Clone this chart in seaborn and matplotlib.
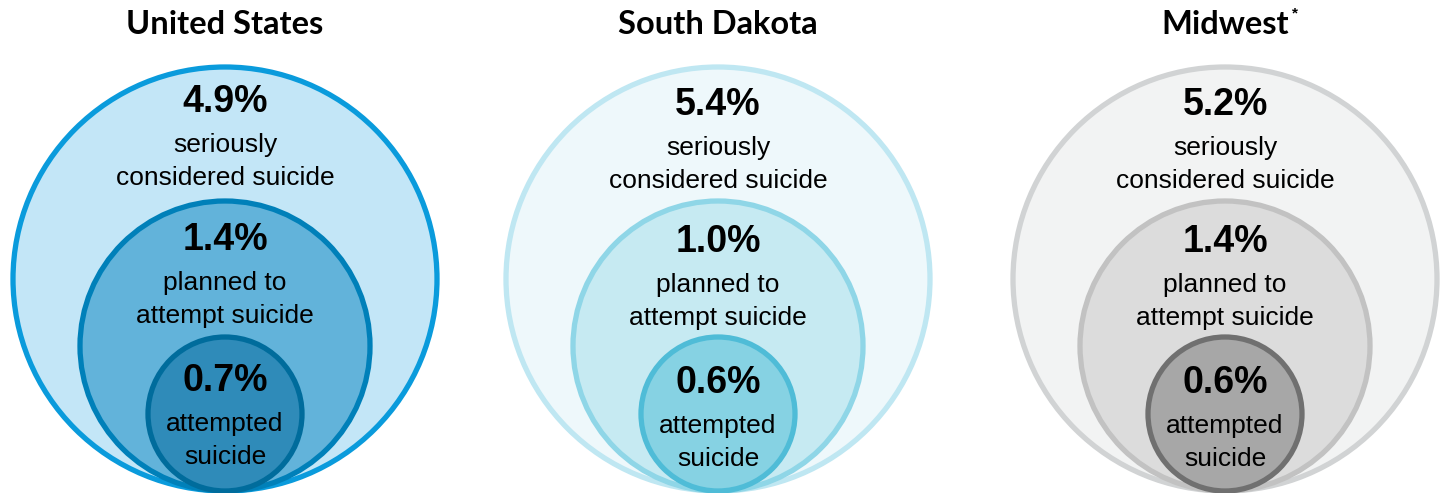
import matplotlib
matplotlib.use("Agg")
import matplotlib.pyplot as plt
import seaborn as sns
from matplotlib.patches import Circle

# Data
regions = ["United States", "South Dakota", "Midwest"]
considered = [4.9, 5.4, 5.2]
planned = [1.4, 1.0, 1.4]
attempted = [0.7, 0.6, 0.6]
level_labels = ["seriously\nconsidered suicide", "planned to\nattempt suicide", "attempted\nsuicide"]

# Layout (pixels)
centers_x = [225, 718, 1225]
radii = [212, 145, 77]
bottom = 491

fills = [
    ["#c3e6f7", "#62b3da", "#2f8bb9"],
    ["#eef8fb", "#c6eaf2", "#86d2e3"],
    ["#f2f3f3", "#dcdcdc", "#a7a7a7"],
]
edges = [
    ["#0a9bdc", "#0080b9", "#006c9c"],
    ["#bfe7f2", "#8fd6e7", "#4fbcd7"],
    ["#d1d3d4", "#c2c2c2", "#707070"],
]
# text y positions (percent line) per level
pct_y = [[102, 240, 381], [105, 242, 383], [105, 242, 383]]

sns.set_theme(style="white")
plt.rcParams["font.family"] = ["Liberation Sans", "DejaVu Sans"]

fig = plt.figure(figsize=(14.45, 4.93), dpi=100)
ax = fig.add_axes([0, 0, 1, 1])
ax.set_xlim(0, 1445)
ax.set_ylim(493, 0)
ax.set_aspect("equal")
ax.axis("off")

for i, region in enumerate(regions):
    cx = centers_x[i]
    values = [considered[i], planned[i], attempted[i]]
    for k, r in enumerate(radii):
        ax.add_patch(Circle((cx, bottom - r), r, facecolor=fills[i][k],
                            edgecolor=edges[i][k], linewidth=3.8, zorder=k + 1))
        y = pct_y[i][k]
        ax.text(cx, y, f"{values[k]:.1f}%", ha="center", va="center",
                fontsize=27, fontweight="bold", color="black", zorder=10,
                family=["Liberation Sans", "DejaVu Sans"])
        ax.text(cx, y + 59.5, level_labels[k], ha="center", va="center",
                fontsize=19, color="black", linespacing=1.45, zorder=10,
                family=["Liberation Sans", "DejaVu Sans"])
    ax.text(cx, 25, region, ha="center", va="center", fontsize=23.5,
            fontweight="bold", family=["Lato", "DejaVu Sans"], color="black")

ax.text(1292, 13, "*", ha="left", va="center", fontsize=11,
        fontweight="bold", color="black")

fig.savefig("out.png", dpi=100)
